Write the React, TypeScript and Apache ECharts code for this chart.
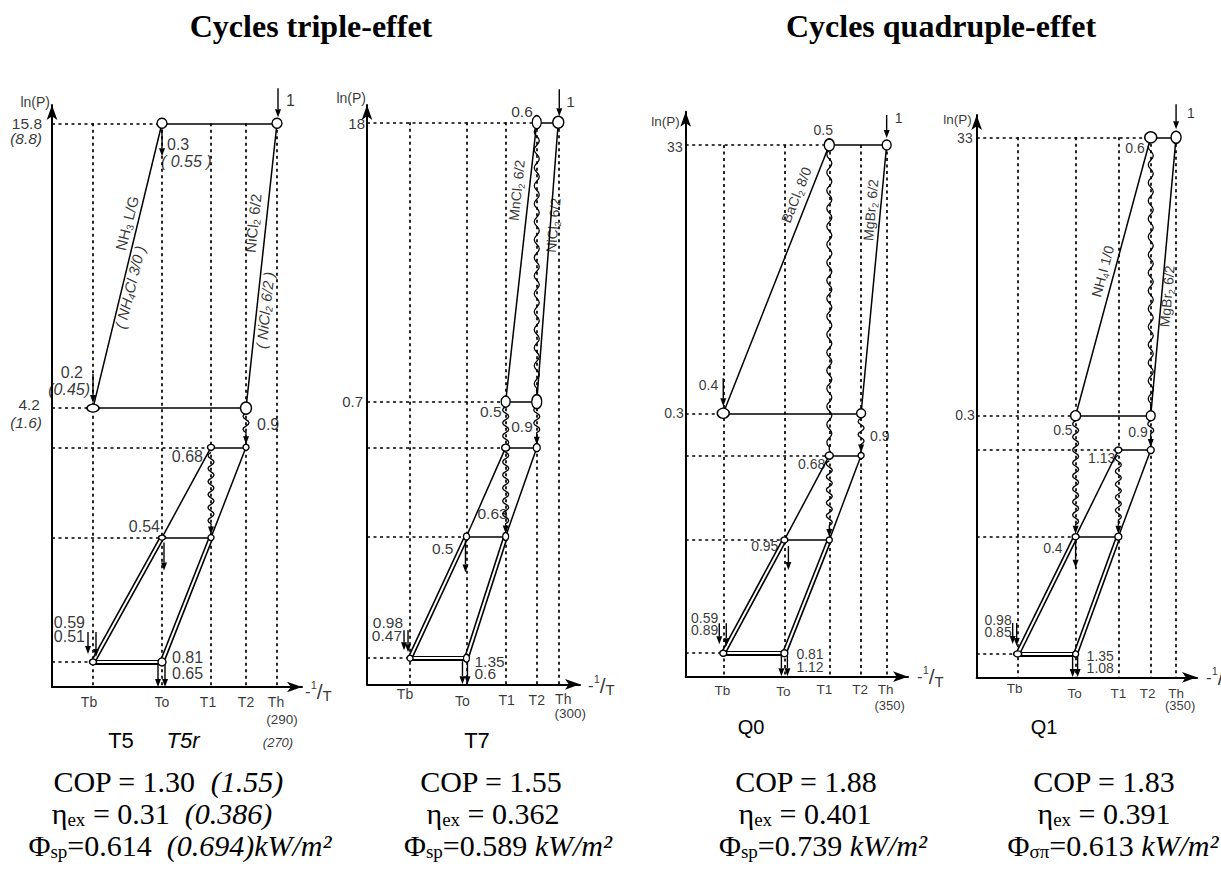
import { useEffect, useRef } from "react";
import * as echarts from "echarts";

type Node = [number, number]; // [temperature index (Tb,To,T1,T2,Th), pressure level index]
type Seg = [Node, Node];

/* ======================= DATA ======================= */
const TEMP_NAMES = ["Tb", "To", "T1", "T2", "Th"];

// ---- T5 / T5r (triple effect)
const T5_TEMPS = [16.4, 44, 63.6, 77.6, 90]; // reduced -1/T positions
const T5_P = [15.8, 4.2, 3.5, 2.3, 1.29]; // pressure levels (bar), plotted as ln(P)
const T5_P_TICKS = ["15.8", "4.2"];
const T5R_P_TICKS = ["(8.8)", "(1.6)"];
const T5_TH = "(290)";
const T5R_TH = "(270)";
const T5_FLOWS = ["1", "0.3", "( 0.55 )", "0.2", "(0.45)", "0.9", "0.68", "0.54", "0.59", "0.51", "0.81", "0.65"];
const T5_PAIRS = ["{n|NH}{s|3}{n| L/G}", "{i|( NH}{j|4}{i|Cl 3/0 )}", "{n|NiCl}{s|2}{n| 6/2}", "{i|( NiCl}{j|2}{i| 6/2 )}"];
const T5_SOLID: Seg[] = [[[1, 0], [4, 0]], [[1, 0], [0, 1]], [[4, 0], [3, 1]], [[0, 1], [3, 1]], [[2, 2], [3, 2]], [[2, 2], [1, 3]], [[3, 2], [2, 3]], [[1, 3], [2, 3]]];
const T5_DOUBLE: Seg[] = [[[1, 3], [0, 4]], [[2, 3], [1, 4]], [[0, 4], [1, 4]]];
const T5_WAVES: [Node, Node, number][] = [[[3, 1], [3, 2], 1], [[2, 2], [2, 3], 1]];
const T5_NODES: Node[] = [[1, 0], [4, 0], [0, 1], [3, 1], [2, 2], [3, 2], [1, 3], [2, 3], [0, 4], [1, 4]];

// ---- T7 (triple effect)
const T7_TEMPS = [20.2, 46.7, 65.1, 79.7, 89.8];
const T7_P = [18, 0.7, 0.41, 0.146, 0.0355];
const T7_P_TICKS = ["18", "0.7"];
const T7_TH = "(300)";
const T7_FLOWS = ["0.6", "1", "0.5", "0.9", "0.63", "0.5", "0.98", "0.47", "1.35", "0.6"];
const T7_PAIRS = ["{n|MnCl}{s|2}{n| 6/2}", "{n|NiCl}{s|2}{n| 6/2}"];
const T7_SOLID: Seg[] = [[[3, 0], [4, 0]], [[3, 0], [2, 1]], [[4, 0], [3, 1]], [[2, 1], [3, 1]], [[2, 2], [3, 2]], [[2, 2], [1, 3]], [[3, 2], [2, 3]], [[1, 3], [2, 3]]];
const T7_DOUBLE: Seg[] = [[[1, 3], [0, 4]], [[2, 3], [1, 4]], [[0, 4], [1, 4]]];
const T7_WAVES: [Node, Node, number][] = [[[3, 0], [3, 1], 0], [[3, 1], [3, 2], 1], [[2, 1], [2, 3], 1]];
const T7_NODES: Node[] = [[3, 0], [4, 0], [2, 1], [3, 1], [2, 2], [3, 2], [1, 3], [2, 3], [0, 4], [1, 4]];

// ---- Q0 (quadruple effect)
const Q0_TEMPS = [16.9, 44.4, 64.6, 78.9, 90.4];
const Q0_P = [33, 0.3, 0.143, 0.0326, 0.00448];
const Q0_P_TICKS = ["33", "0.3"];
const Q0_TH = "(350)";
const Q0_FLOWS = ["0.5", "1", "0.4", "0.9", "0.68", "0.95", "0.59", "0.89", "0.81", "1.12"];
const Q0_PAIRS = ["{n|BaCl}{s|2}{n| 8/0}", "{n|MgBr}{s|2}{n| 6/2}"];
const Q0_SOLID: Seg[] = [[[2, 0], [4, 0]], [[2, 0], [0, 1]], [[4, 0], [3, 1]], [[0, 1], [3, 1]], [[2, 2], [3, 2]], [[2, 2], [1, 3]], [[3, 2], [2, 3]], [[1, 3], [2, 3]]];
const Q0_DOUBLE: Seg[] = [[[1, 3], [0, 4]], [[2, 3], [1, 4]], [[0, 4], [1, 4]]];
const Q0_WAVES: [Node, Node, number][] = [[[2, 0], [2, 2], 0], [[3, 1], [3, 2], 1], [[2, 2], [2, 3], 1]];
const Q0_NODES: Node[] = [[2, 0], [4, 0], [0, 1], [3, 1], [2, 2], [3, 2], [1, 3], [2, 3], [0, 4], [1, 4]];

// ---- Q1 (quadruple effect)
const Q1_TEMPS = [18.6, 44.9, 64.3, 79.0, 90.5];
const Q1_P = [33, 0.3, 0.168, 0.0389, 0.00537];
const Q1_P_TICKS = ["33", "0.3"];
const Q1_TH = "(350)";
const Q1_FLOWS = ["0.6", "1", "0.5", "0.9", "1.13", "0.4", "0.98", "0.85", "1.35", "1.08"];
const Q1_PAIRS = ["{n|NH}{s|4}{n|I 1/0}", "{n|MgBr}{s|2}{n| 6/2}"];
const Q1_SOLID: Seg[] = [[[3, 0], [4, 0]], [[3, 0], [1, 1]], [[4, 0], [3, 1]], [[1, 1], [3, 1]], [[2, 2], [3, 2]], [[2, 2], [1, 3]], [[3, 2], [2, 3]], [[1, 3], [2, 3]]];
const Q1_DOUBLE: Seg[] = [[[1, 3], [0, 4]], [[2, 3], [1, 4]], [[0, 4], [1, 4]]];
const Q1_WAVES: [Node, Node, number][] = [[[3, 0], [3, 1], 0], [[3, 1], [3, 2], 1], [[1, 1], [1, 3], 1], [[2, 2], [2, 3], 1]];
const Q1_NODES: Node[] = [[3, 0], [4, 0], [1, 1], [3, 1], [2, 2], [3, 2], [1, 3], [2, 3], [0, 4], [1, 4]];

// ---- performance figures
const CYCLE_NAMES = ["T5", "T7", "Q0", "Q1"];
const COP = ["1.30", "1.55", "1.88", "1.83"];
const COP_R = ["(1.55)", "", "", ""];
const ETA = ["0.31", "0.362", "0.401", "0.391"];
const ETA_R = ["(0.386)", "", "", ""];
const PHI = ["0.614", "0.589", "0.739", "0.613"];
const PHI_R = ["(0.694)", "", "", ""];
const PHI_SUB = ["sp", "sp", "sp", "σπ"];

/* ======================= LAYOUT ======================= */
const PANELS = [
  { temps: T5_TEMPS, p: T5_P, solid: T5_SOLID, dbl: T5_DOUBLE, waves: T5_WAVES, nodes: T5_NODES, flows: T5_FLOWS, pairs: T5_PAIRS, ticks: T5_P_TICKS, ticksR: T5R_P_TICKS, th: T5_TH, thR: T5R_TH },
  { temps: T7_TEMPS, p: T7_P, solid: T7_SOLID, dbl: T7_DOUBLE, waves: T7_WAVES, nodes: T7_NODES, flows: T7_FLOWS, pairs: T7_PAIRS, ticks: T7_P_TICKS, ticksR: [], th: T7_TH, thR: "" },
  { temps: Q0_TEMPS, p: Q0_P, solid: Q0_SOLID, dbl: Q0_DOUBLE, waves: Q0_WAVES, nodes: Q0_NODES, flows: Q0_FLOWS, pairs: Q0_PAIRS, ticks: Q0_P_TICKS, ticksR: [], th: Q0_TH, thR: "" },
  { temps: Q1_TEMPS, p: Q1_P, solid: Q1_SOLID, dbl: Q1_DOUBLE, waves: Q1_WAVES, nodes: Q1_NODES, flows: Q1_FLOWS, pairs: Q1_PAIRS, ticks: Q1_P_TICKS, ticksR: [], th: Q1_TH, thR: "" },
];

type At = [Node, number, number, string, number?]; // node, dx, dy, align, italic
const LAYOUTS: any[] = [
  {
    left: 52, top: 105, width: 250, height: 582, pMin: 1.148, pMax: 17.2, fs: 16, afs: 14, pfs: 15.5, cfs: 15,
    sizes: [[10, 10], [10, 10], [12, 8], [11, 12], [7, 6], [6, 6], [7, 5], [6, 6], [7, 6], [8, 8]],
    flowAt: [[[4, 0], 9, -23, "left"], [[1, 0], 5, 21, "left"], [[1, 0], -1, 38, "left", 1], [[0, 1], -10, -36, "right"], [[0, 1], -3, -19, "right", 1], [[3, 1], 11, 16, "left"], [[2, 2], -8, 9, "right"], [[1, 3], -2, -11, "right"], [[0, 4], -8, -39, "right"], [[0, 4], -8, -25, "right"], [[1, 4], 10, -4, "left"], [[1, 4], 10, 12, "left"]] as At[],
    pairAt: [[[1, 0], -35, 100, 76], [[1, 0], -32, 164, 76], [[4, 0], -24, 100, 84], [[4, 0], -12, 187, 84]],
    tickAt: [[-10, 0], [-12, -4]], tickRAt: [[-10, 15], [-10, 14]],
    tempAt: [[-4, 15], [0, 15], [-3, 15], [0, 15], [-1, 15]], thAt: [5, 32], thRAt: [1, 55],
    lnAt: [-2, -3], invAt: [3, 4],
    arrows: [[[4, 0], 1, -35, 1, -6], [[1, 0], 0, 6, 0, 33], [[0, 1], 0, -34, 0, -5], [[1, 3], 2, 5, 2, 33], [[0, 4], -5, -30, -5, -8], [[0, 4], 3, -30, 3, -5], [[1, 4], -4, 2, -4, 25], [[1, 4], 3, 2, 3, 25]],
  },
  {
    left: 367, top: 105, width: 213, height: 579.3, pMin: 0.0262, pMax: 22.0, fs: 15.5, afs: 14, pfs: 15, cfs: 14,
    sizes: [[9, 13], [11, 12], [9, 11], [10, 14], [8, 7], [7, 8], [6, 7], [6, 8], [6, 6], [6, 8]],
    flowAt: [[[3, 0], -4, -11, "right"], [[4, 0], 8, -21, "left"], [[2, 1], -4, 10, "right"], [[3, 1], -4, 25, "right"], [[2, 3], 2, -23, "right"], [[1, 3], -13, 12, "right"], [[0, 4], -7, -36, "right"], [[0, 4], -8, -23, "right"], [[1, 4], 8, 3, "left"], [[1, 4], 8, 15, "left"]] as At[],
    pairAt: [[[3, 0], -20, 68, 84], [[4, 0], -5, 103, 85]],
    tickAt: [[-2, 1], [-4, 0]], tickRAt: [],
    tempAt: [[-5, 10], [-4, 17], [1, 16], [0, 16], [5, 15]], thAt: [12, 29], thRAt: [0, 0],
    lnAt: [-1, -7], invAt: [8, 1],
    arrows: [[[4, 0], 1, -33, 1, -6], [[1, 3], -1, 4, -1, 36], [[0, 4], -6, -28, -6, -8], [[0, 4], -2, -28, -2, -6], [[1, 4], -4, 3, -4, 26], [[1, 4], 1, 3, 1, 26]],
  },
  {
    left: 685.7, top: 111.7, width: 222.3, height: 565, pMin: 0.00297, pMax: 59.1, fs: 14, afs: 13.5, pfs: 14, cfs: 14,
    sizes: [[10, 12], [9, 10], [12, 10], [9, 9], [8, 7], [6, 6], [7, 6], [6, 6], [7, 6], [7, 7]],
    flowAt: [[[2, 0], -6, -15, "center"], [[4, 0], 8, -27, "left"], [[0, 1], -5, -28, "right"], [[3, 1], 9, 23, "left"], [[2, 2], -4, 8, "right"], [[1, 3], -6, 6, "right"], [[0, 4], -5, -35, "right"], [[0, 4], -5, -23, "right"], [[1, 4], 12, 1, "left"], [[1, 4], 12, 14, "left"]] as At[],
    pairAt: [[[2, 0], -33, 50, 68], [[4, 0], -16, 65, 85]],
    tickAt: [[-3, 2], [-2, 0]], tickRAt: [],
    tempAt: [[-1, 14], [-1, 15], [-5, 13], [-1, 13], [-1, 13]], thAt: [3, 29], thRAt: [0, 0],
    lnAt: [-6, 10], invAt: [9, 0],
    arrows: [[[4, 0], 0, -30, 0, -7], [[0, 1], 0, -35, 0, -7], [[1, 3], 4, 6, 4, 30], [[0, 4], -4, -30, -4, -9], [[0, 4], 3, -30, 3, -7], [[1, 4], -3, 2, -3, 23], [[1, 4], 3, 2, 3, 23]],
  },
  {
    left: 976.7, top: 115, width: 220.3, height: 562.3, pMin: 0.00362, pMax: 48.1, fs: 14, afs: 13.5, pfs: 14, cfs: 14,
    sizes: [[12, 11], [10, 12], [10, 10], [9, 10], [7, 6], [7, 7], [7, 6], [7, 7], [8, 6], [6, 6]],
    flowAt: [[[3, 0], -6, 11, "right"], [[4, 0], 11, -24, "left"], [[1, 1], -3, 14, "right"], [[3, 1], -3, 16, "right"], [[2, 2], -3, 8, "right"], [[1, 3], -13, 11, "right"], [[0, 4], -6, -34, "right"], [[0, 4], -6, -22, "right"], [[1, 4], 11, 2, "left"], [[1, 4], 11, 14, "left"]] as At[],
    pairAt: [[[3, 0], -48, 134, 75], [[4, 0], -9, 159, 85]],
    tickAt: [[-4, 1], [-2, -1]], tickRAt: [],
    tempAt: [[-3, 11], [-1, 16], [0, 16], [-3, 16], [0, 16]], thAt: [4, 28], thRAt: [0, 0],
    lnAt: [-5, 4], invAt: [9, 0],
    arrows: [[[4, 0], 0, -33, 0, -8], [[1, 3], 0, 6, 0, 31], [[0, 4], -5, -31, -5, -10], [[0, 4], -1, -31, -1, -8], [[1, 4], -3, 2, -3, 23], [[1, 4], 2, 2, 2, 23]],
  },
];

// texts outside the diagrams: centres of each line (COP, eta, phi) per cycle
const BOT_X = [[168, 162, 180], [491, 493, 508], [806, 805, 823], [1104, 1104, 1113]];
const BOT_Y = [781, 813, 845];

const SANS = "Liberation Sans";
const SERIF = "Liberation Serif";

/* ======================= RENDERERS ======================= */
const renderWave = (_p: any, api: any) => {
  const a = api.coord([api.value(0), api.value(1)]);
  const b = api.coord([api.value(2), api.value(3)]);
  const withArrow = api.value(4) > 0;
  const dx = b[0] - a[0], dy = b[1] - a[1];
  const len = Math.hypot(dx, dy) || 1;
  const ux = dx / len, uy = dy / len, nx = -uy, ny = ux;
  const P = (t: number, o: number) => [a[0] + ux * t + nx * o, a[1] + uy * t + ny * o];
  const t0 = 5;
  const tEnd = len - (withArrow ? 3 : 5);
  const tStop = withArrow ? tEnd - 8 : tEnd;
  const long = len > 150;
  const half = long ? 9 : 6.5, amp = long ? 2.5 : 3;
  const s = P(t0, 0);
  let d = `M${s[0]},${s[1]}`;
  let t = t0, sg = 1;
  while (t + half <= tStop) {
    const c = P(t + half / 2, 2 * amp * sg), e = P(t + half, 0);
    d += ` Q${c[0]},${c[1]} ${e[0]},${e[1]}`;
    t += half;
    sg = -sg;
  }
  const f = P(tStop, 0);
  d += ` L${f[0]},${f[1]}`;
  const children: any[] = [{ type: "path", shape: { pathData: d }, style: { fill: "none", stroke: "#000", lineWidth: 1.3 } }];
  if (withArrow) {
    children.push({ type: "polygon", shape: { points: [P(tEnd, 0), P(tStop, 3), P(tStop, -3)] }, style: { fill: "#000" } });
  }
  return { type: "group", children };
};

const renderArrow = (_p: any, api: any) => {
  const p = api.coord([api.value(0), api.value(1)]);
  const s = [p[0] + api.value(2), p[1] + api.value(3)];
  const e = [p[0] + api.value(4), p[1] + api.value(5)];
  const dx = e[0] - s[0], dy = e[1] - s[1];
  const len = Math.hypot(dx, dy) || 1;
  const ux = dx / len, uy = dy / len, nx = -uy, ny = ux;
  const base = [e[0] - ux * 8, e[1] - uy * 8];
  return {
    type: "group",
    children: [
      { type: "line", shape: { x1: s[0], y1: s[1], x2: base[0], y2: base[1] }, style: { stroke: "#000", lineWidth: 1.4 } },
      { type: "polygon", shape: { points: [e, [base[0] + nx * 3, base[1] + ny * 3], [base[0] - nx * 3, base[1] - ny * 3]] }, style: { fill: "#000" } },
    ],
  };
};

// label offsets are applied in the rotated frame: convert a screen offset
const localOffset = (sx: number, sy: number, deg: number) => {
  const r = (deg * Math.PI) / 180, c = Math.cos(r), s = Math.sin(r);
  return [sx * c - sy * s, sx * s + sy * c];
};

function buildOption() {
  const grid: any[] = [], xAxis: any[] = [], yAxis: any[] = [], series: any[] = [];
  PANELS.forEach((d, i) => {
    const L = LAYOUTS[i];
    const ln = (v: number) => Math.log(v);
    const pt = (n: Node) => [d.temps[n[0]], ln(d.p[n[1]])];
    const yMin = ln(L.pMin), yMax = ln(L.pMax);
    const ax = { xAxisIndex: i, yAxisIndex: i };
    grid.push({ left: L.left, top: L.top, width: L.width, height: L.height, outerBoundsMode: "none", containLabel: false });
    const axisLine = { show: true, onZero: false, symbol: ["none", "arrow"], symbolSize: [8, 15], lineStyle: { color: "#000", width: 2 } };
    xAxis.push({ gridIndex: i, type: "value", min: 0, max: 100, axisLine, axisTick: { show: false }, axisLabel: { show: false }, splitLine: { show: false } });
    yAxis.push({ gridIndex: i, type: "value", min: yMin, max: yMax, axisLine, axisTick: { show: false }, axisLabel: { show: false }, splitLine: { show: false } });

    // dashed reference lines
    const dashed: any[] = [];
    d.temps.forEach((t) => dashed.push({ coords: [[t, ln(d.p[0])], [t, yMin]] }));
    d.p.forEach((pv, li) => {
      const onLevel = d.nodes.filter((n) => n[1] === li).map((n) => d.temps[n[0]]);
      dashed.push({ coords: [[0, ln(pv)], [Math.min(...onLevel), ln(pv)]] });
    });
    series.push({ type: "lines", coordinateSystem: "cartesian2d", ...ax, silent: true, z: 1, data: dashed, lineStyle: { color: "#000", width: 1.7, type: [3, 3.5], opacity: 1 } });

    // solid cycle lines
    series.push({ type: "lines", coordinateSystem: "cartesian2d", ...ax, silent: true, z: 2, data: d.solid.map(([a, b]) => ({ coords: [pt(a), pt(b)] })), lineStyle: { color: "#000", width: 1.5, opacity: 1 } });
    // double lines
    const dbl = d.dbl.map(([a, b]) => ({ coords: [pt(a), pt(b)] }));
    series.push({ type: "lines", coordinateSystem: "cartesian2d", ...ax, silent: true, z: 3, data: dbl, lineStyle: { color: "#000", width: 5.2, opacity: 1 } });
    series.push({ type: "lines", coordinateSystem: "cartesian2d", ...ax, silent: true, z: 3, data: dbl, lineStyle: { color: "#fff", width: 2, opacity: 1 } });

    // heat transfer (wavy) lines
    series.push({ type: "custom", coordinateSystem: "cartesian2d", ...ax, silent: true, z: 4, clip: false, encode: { x: [0, 2], y: [1, 3] }, data: d.waves.map(([a, b, w]) => [...pt(a), ...pt(b), w]), renderItem: renderWave });
    // straight arrows
    series.push({ type: "custom", coordinateSystem: "cartesian2d", ...ax, silent: true, z: 4, clip: false, encode: { x: 0, y: 1 }, data: L.arrows.map((r: any) => [...pt(r[0]), r[1], r[2], r[3], r[4]]), renderItem: renderArrow });

    // state points
    series.push({
      type: "scatter", ...ax, silent: true, z: 5, symbol: "circle",
      itemStyle: { color: "#fff", borderColor: "#000", borderWidth: 1.4, opacity: 1 },
      data: d.nodes.map((n, k) => ({ value: pt(n), symbolSize: L.sizes[k] })),
    });

    // annotations
    const ann: any[] = [];
    const add = (name: string, v: number[], dx: number, dy: number, align: string, extra: any = {}) =>
      ann.push({ name, value: v, label: { offset: [dx, dy], align, ...extra } });
    d.flows.forEach((txt, k) => {
      const f = L.flowAt[k];
      add(txt, pt(f[0]), f[1], f[2], f[3], f[4] ? { fontStyle: "italic" } : {});
    });
    d.ticks.forEach((txt, k) => add(txt, [0, ln(d.p[k])], L.tickAt[k][0], L.tickAt[k][1], "right", { fontSize: L.pfs }));
    d.ticksR.forEach((txt, k) => add(txt, [0, ln(d.p[k])], L.tickRAt[k][0], L.tickRAt[k][1], "right", { fontSize: L.pfs, fontStyle: "italic" }));
    TEMP_NAMES.forEach((txt, k) => add(txt, [d.temps[k], yMin], L.tempAt[k][0], L.tempAt[k][1], "center", { fontSize: L.afs }));
    add(d.th, [d.temps[4], yMin], L.thAt[0], L.thAt[1], "center", { fontSize: L.afs - 0.5 });
    if (d.thR) add(d.thR, [d.temps[4], yMin], L.thRAt[0], L.thRAt[1], "center", { fontSize: 13, fontStyle: "italic" });
    add("ln(P)", [0, yMax], L.lnAt[0], L.lnAt[1], "right", { fontSize: L.afs });
    add("{m|-}{o|1}{l|/}{t|T}", [100, yMin], L.invAt[0], L.invAt[1], "left", {
      rich: {
        m: { fontSize: 17, fontFamily: SANS, color: "#000", lineHeight: 24 },
        o: { fontSize: 11, fontFamily: SANS, color: "#000", lineHeight: 12, verticalAlign: "top" },
        l: { fontSize: 21, fontFamily: SANS, color: "#000", lineHeight: 24 },
        t: { fontSize: 15, fontFamily: SANS, color: "#000", lineHeight: 15, verticalAlign: "bottom" },
      },
    });
    series.push({
      type: "scatter", ...ax, silent: true, z: 6, symbolSize: 1, itemStyle: { color: "rgba(0,0,0,0)" },
      label: { show: true, position: "inside", verticalAlign: "middle", formatter: (p: any) => p.name, color: "#000", fontFamily: SANS, fontSize: L.fs },
      data: ann,
    });

    // compound labels along the lines
    const fsC = L.cfs;
    series.push({
      type: "scatter", ...ax, silent: true, z: 6, symbolSize: 1, itemStyle: { color: "rgba(0,0,0,0)" },
      label: {
        show: true, position: "inside", align: "center", verticalAlign: "middle", formatter: (p: any) => p.name,
        rich: {
          n: { fontSize: fsC, fontFamily: SANS, color: "#000", lineHeight: 18 },
          s: { fontSize: fsC - 5, fontFamily: SANS, color: "#000", lineHeight: 10, verticalAlign: "bottom" },
          i: { fontSize: fsC, fontFamily: SANS, color: "#000", fontStyle: "italic", lineHeight: 18 },
          j: { fontSize: fsC - 5, fontFamily: SANS, color: "#000", fontStyle: "italic", lineHeight: 10, verticalAlign: "bottom" },
        },
      },
      data: d.pairs.map((txt, k) => {
        const a = L.pairAt[k];
        return { name: txt, value: pt(a[0]), label: { offset: localOffset(a[1], a[2], a[3]), rotate: a[3] } };
      }),
    });
  });

  // ---------- texts outside the diagrams ----------
  const richB = {
    r: { fontFamily: SERIF, fontSize: 30, fill: "#000", lineHeight: 32 },
    i: { fontFamily: SERIF, fontSize: 30, fill: "#000", fontStyle: "italic", lineHeight: 32 },
    s: { fontFamily: SERIF, fontSize: 19, fill: "#000", lineHeight: 18, verticalAlign: "bottom" },
  };
  const graphic: any[] = [
    { type: "text", x: 311, y: 26, style: { text: "Cycles triple-effet", font: `bold 32px ${SERIF}`, fill: "#000", align: "center", verticalAlign: "middle" } },
    { type: "text", x: 941, y: 26, style: { text: "Cycles quadruple-effet", font: `bold 32px ${SERIF}`, fill: "#000", align: "center", verticalAlign: "middle" } },
    { type: "text", x: 121, y: 740, style: { text: CYCLE_NAMES[0], font: `22px ${SANS}`, fill: "#000", align: "center", verticalAlign: "middle" } },
    { type: "text", x: 183, y: 740, style: { text: CYCLE_NAMES[0] + "r", font: `italic 22px ${SANS}`, fill: "#000", align: "center", verticalAlign: "middle" } },
    { type: "text", x: 477, y: 740, style: { text: CYCLE_NAMES[1], font: `22px ${SANS}`, fill: "#000", align: "center", verticalAlign: "middle" } },
    { type: "text", x: 751, y: 727, style: { text: CYCLE_NAMES[2], font: `20px ${SANS}`, fill: "#000", align: "center", verticalAlign: "middle" } },
    { type: "text", x: 1044, y: 727, style: { text: CYCLE_NAMES[3], font: `20px ${SANS}`, fill: "#000", align: "center", verticalAlign: "middle" } },
  ];
  for (let i = 0; i < 4; i++) {
    const l1 = `{r|COP = ${COP[i]}}` + (COP_R[i] ? `{r|  }{i|${COP_R[i]}}` : "");
    const l2 = `{r|η}{s|ex}{r| = ${ETA[i]}}` + (ETA_R[i] ? `{r|  }{i|${ETA_R[i]}}` : "");
    const l3 = `{r|Φ}{s|${PHI_SUB[i]}}{r|=${PHI[i]}}` + (PHI_R[i] ? `{r|  }{i|${PHI_R[i]}kW/m²}` : `{r| }{i|kW/m²}`);
    [l1, l2, l3].forEach((txt, k) =>
      graphic.push({ type: "text", x: BOT_X[i][k], y: BOT_Y[k], style: { text: txt, rich: richB, fill: "#000", align: "center", verticalAlign: "middle" } })
    );
  }

  return { animation: false, backgroundColor: "#fff", grid, xAxis, yAxis, series, graphic };
}

export default function App() {
  const ref = useRef<HTMLDivElement>(null);
  useEffect(() => {
    if (!ref.current) return;
    const chart = echarts.init(ref.current, undefined, { renderer: "svg" });
    chart.setOption(buildOption() as any);
    return () => chart.dispose();
  }, []);
  return <div ref={ref} style={{ position: "absolute", left: 0, top: 0, width: 1221, height: 876, background: "#fff" }} />;
}
